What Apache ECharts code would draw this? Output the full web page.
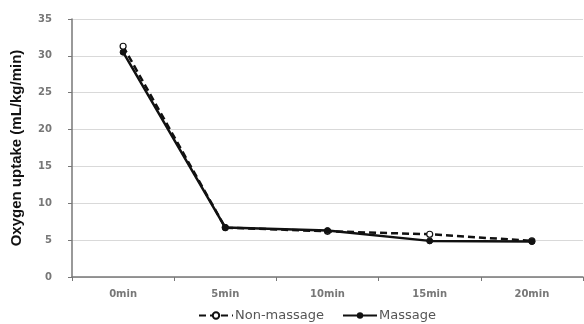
<!DOCTYPE html>
<html><head><meta charset="utf-8">
<script src="https://cdn.jsdelivr.net/npm/echarts@6/dist/echarts.min.js"></script>
<style>html,body{margin:0;padding:0;background:#fff}#c{width:584px;height:324px}</style>
</head><body><div id="c"></div>
<script>
var categories = ['0min', '5min', '10min', '15min', '20min'];
var nonMassage = [31.3, 6.7, 6.2, 5.8, 4.9];
var massage = [30.5, 6.7, 6.3, 4.9, 4.8];
var yTicks = [0, 5, 10, 15, 20, 25, 30, 35];

var chart = echarts.init(document.getElementById('c'));
chart.setOption({
  animation: false,
  grid: {left: 72, right: 1, top: 19, bottom: 47},
  legend: {
    top: 309, left: 198, itemGap: 18, itemWidth: 34, itemHeight: 8, padding: 0,
    textStyle: {fontFamily: 'DejaVu Sans', fontSize: 13, color: '#555', padding: [0, 0, 0, -3]},
    data: ['Non-massage', 'Massage']
  },
  xAxis: {
    type: 'category', data: categories, boundaryGap: true,
    axisLine: {lineStyle: {color: '#777', width: 1.5}},
    axisTick: {show: true, length: 4, lineStyle: {color: '#777'}},
    axisLabel: {fontFamily: 'DejaVu Sans', fontWeight: 'bold', fontSize: 10, color: '#777', margin: 12}
  },
  yAxis: {
    type: 'value', min: yTicks[0], max: yTicks[yTicks.length - 1], interval: 5,
    name: 'Oxygen uptake (mL/kg/min)', nameLocation: 'middle', nameGap: 48,
    nameTextStyle: {fontFamily: 'Liberation Sans', fontSize: 15, color: '#111', fontWeight: 'bold'},
    axisLine: {show: true, lineStyle: {color: '#777', width: 1.5}},
    axisTick: {show: true, length: 4, lineStyle: {color: '#777'}},
    axisLabel: {fontFamily: 'DejaVu Sans', fontWeight: 'bold', fontSize: 10, color: '#777', margin: 20},
    splitLine: {lineStyle: {color: '#d9d9d9', width: 1}}
  },
  series: [
    {
      name: 'Non-massage', type: 'line', data: nonMassage,
      symbol: 'circle', symbolSize: 6,
      lineStyle: {color: '#111', width: 2.5, type: [7, 4]},
      itemStyle: {color: '#fff', borderColor: '#111', borderWidth: 1.2}
    },
    {
      name: 'Massage', type: 'line', data: massage,
      symbol: 'circle', symbolSize: 6,
      lineStyle: {color: '#111', width: 2.5},
      itemStyle: {color: '#111', borderColor: '#111'}
    }
  ]
});
</script></body></html>
